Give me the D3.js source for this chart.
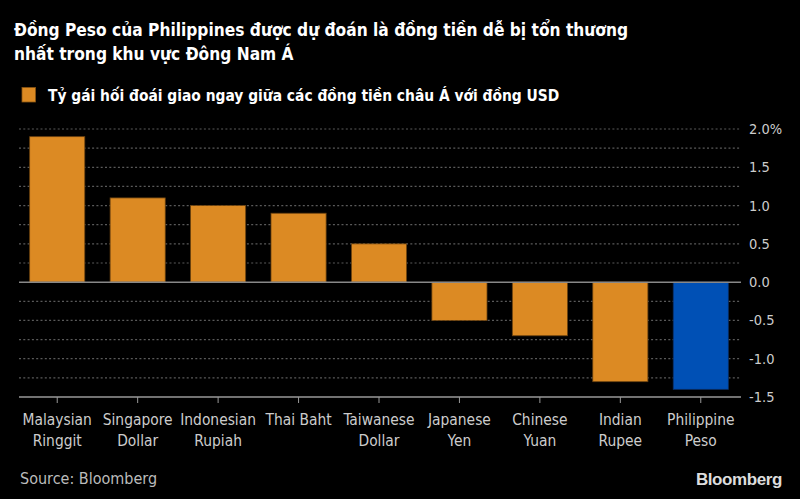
<!DOCTYPE html>
<html><head><meta charset="utf-8">
<script src="https://cdn.jsdelivr.net/npm/d3@7"></script>
<style>
html,body{margin:0;padding:0;background:#000;}
svg{display:block;}
</style></head>
<body>
<script>
const categories = [["Malaysian","Ringgit"],["Singapore","Dollar"],["Indonesian","Rupiah"],["Thai Baht"],["Taiwanese","Dollar"],["Japanese","Yen"],["Chinese","Yuan"],["Indian","Rupee"],["Philippine","Peso"]];
const values = [1.9, 1.1, 1.0, 0.9, 0.5, -0.5, -0.7, -1.3, -1.4];
const highlight = [false,false,false,false,false,false,false,false,true];
const tickValues = [-1.5,-1.0,-0.5,0.0,0.5,1.0,1.5,2.0];
const gridValues = [-1.25,-1.0,-0.75,-0.5,-0.25,0.25,0.5,0.75,1.0,1.25,1.5,1.75,2.0];
const titleLines = ["Đồng Peso của Philippines được dự đoán là đồng tiền dễ bị tổn thương","nhất trong khu vực Đông Nam Á"];
const legendLabel = "Tỷ gái hối đoái giao ngay giữa các đồng tiền châu Á với đồng USD";
const sourceText = "Source: Bloomberg";

const W=800,H=499;
const FONT = "'Liberation Sans Narrow','Arial Narrow','DejaVu Sans Condensed',sans-serif";
const ORANGE="#DC8A23", BLUE="#0050B5";
const svg=d3.select("body").append("svg").attr("width",W).attr("height",H).style("background","#000");

const x=d3.scaleBand().domain(categories.map((d,i)=>i)).range([17,741]).paddingInner(0.315).paddingOuter(0.1575);
const y=d3.scaleLinear().domain([-1.5,2.0]).range([397,129]);

// title
svg.selectAll("text.title").data(titleLines).join("text").attr("class","title")
  .attr("x",14).attr("y",(d,i)=>36+i*24)
  .attr("fill","#fff").attr("font-family",FONT).attr("font-weight","bold").attr("font-size",17.2)
  .text(d=>d);

// legend
svg.append("rect").attr("x",22).attr("y",87.5).attr("width",13.5).attr("height",14.5)
  .attr("fill",ORANGE).attr("stroke","#8a5512").attr("stroke-width",0.8);
svg.append("text").attr("x",48).attr("y",101).attr("fill","#fff").attr("font-family",FONT)
  .attr("font-weight","bold").attr("font-size",15.4).text(legendLabel);

// gridlines
svg.append("g").selectAll("line").data(gridValues).join("line")
  .attr("x1",19).attr("x2",740).attr("y1",d=>y(d)).attr("y2",d=>y(d))
  .attr("stroke","#5a5a5a").attr("stroke-width",1.2).attr("stroke-dasharray","2,2.3");

// bars
svg.append("g").selectAll("rect").data(values).join("rect")
  .attr("x",(d,i)=>x(i)).attr("width",x.bandwidth())
  .attr("y",d=>y(Math.max(0,d))).attr("height",d=>Math.abs(y(d)-y(0)))
  .attr("fill",(d,i)=>highlight[i]?BLUE:ORANGE)
  .attr("stroke",(d,i)=>highlight[i]?"#0a2f66":"#6b4210").attr("stroke-width",0.8);

// zero line & bottom axis
svg.append("line").attr("x1",19).attr("x2",741).attr("y1",y(0)).attr("y2",y(0)).attr("stroke","#888").attr("stroke-width",1.5);
svg.append("line").attr("x1",19).attr("x2",741).attr("y1",y(-1.5)).attr("y2",y(-1.5)).attr("stroke","#999").attr("stroke-width",1.5);

// x ticks
svg.append("g").selectAll("line").data(categories).join("line")
  .attr("x1",(d,i)=>x(i)+x.bandwidth()/2).attr("x2",(d,i)=>x(i)+x.bandwidth()/2)
  .attr("y1",y(-1.5)).attr("y2",y(-1.5)+6).attr("stroke","#999").attr("stroke-width",1);

// x labels
const xl=svg.append("g").selectAll("text").data(categories).join("text")
  .attr("x",(d,i)=>x(i)+x.bandwidth()/2).attr("y",425)
  .attr("text-anchor","middle").attr("fill","#ccc").attr("font-family",FONT).attr("font-size",15.4);
xl.selectAll("tspan").data(d=>d).join("tspan")
  .attr("x",function(){return this.parentNode.getAttribute("x");})
  .attr("dy",(d,i)=>i===0?0:21).text(d=>d);

// y axis labels (right)
svg.append("g").selectAll("text").data(tickValues).join("text")
  .attr("x",749).attr("y",d=>y(d)+5)
  .attr("fill","#ccc").attr("font-family",FONT).attr("font-size",14.5)
  .text(d=>d3.format(".1f")(d).replace("−","-")+(d===2?"%":""));

// source
svg.append("text").attr("x",20).attr("y",484).attr("fill","#bbb").attr("font-family",FONT).attr("font-size",16).text(sourceText);
svg.append("text").attr("x",782).attr("y",485).attr("text-anchor","end").attr("fill","#ddd")
  .attr("font-family","'Liberation Sans',Arial,sans-serif").attr("font-weight","bold").attr("font-size",17).attr("letter-spacing",-0.4).text("Bloomberg");
</script>
</body></html>
